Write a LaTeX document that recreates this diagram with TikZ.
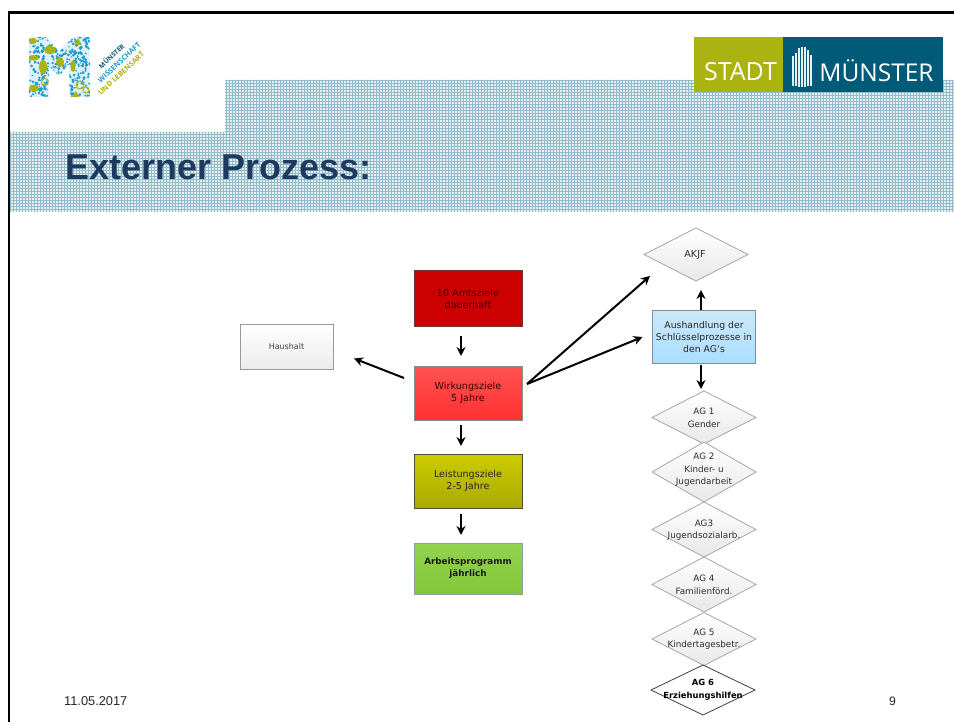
\documentclass[tikz,border=0pt]{standalone}
\usepackage{fontspec}
\setmainfont{DejaVu Sans}
\newfontfamily\arialf{Liberation Sans}
\newfontfamily\logof{Open Sans}
\usetikzlibrary{shapes.geometric,arrows.meta,calc}
\definecolor{titleblue}{HTML}{1F3A5F}
\definecolor{stadtolive}{HTML}{AAB310}
\definecolor{stadtteal}{HTML}{005A78}
\definecolor{dotblue}{HTML}{1C9BD0}
\definecolor{hatchbase}{HTML}{E6F0F3}
\definecolor{hatchline}{HTML}{93BCCB}
\definecolor{darkred}{HTML}{400000}
\tikzset{
  x=1pt,y=-1pt,
  arr/.style={draw=black,line width=2pt,-{Stealth[length=9pt,width=9pt]}},
  goalbox/.style={draw=#1,line width=1pt,inner sep=0pt,outer sep=0pt,anchor=north west,align=center,font=\fontsize{9.6}{12}\selectfont},
  ag/.style={diamond,draw=#1,line width=.8pt,inner sep=0pt,outer sep=0pt,top color=white,bottom color=black!9,shape aspect=2,minimum width=104pt,minimum height=53pt},
  agtext/.style={align=center,inner sep=0pt,text=black!82,font=\fontsize{8.8}{12.6}\selectfont},
  logotext/.style={rotate=43,anchor=west,inner sep=0pt,font=\logof\bfseries\fontsize{7.3}{8}\selectfont},
}
\begin{document}
\begin{tikzpicture}
\useasboundingbox (0,0) rectangle (954,722);
\fill[white] (0,0) rectangle (954,722);
% hatched title band
\begin{scope}
\clip (225,80) -- (954,80) -- (954,212) -- (10,212) -- (10,132) -- (225,132) -- cycle;
\fill[hatchbase] (0,70) rectangle (954,220);
\foreach \x in {10,13,...,954} \draw[hatchline,line width=.65pt] (\x,70) -- (\x,220);
\foreach \y in {80,83,...,212} \draw[hatchline,line width=.65pt] (0,\y) -- (954,\y);
\end{scope}
% frame
\draw[black,line width=2.6pt] (9,722) -- (9,12.5) -- (954,12.5);
% Muenster logo: M of dots
\begin{scope}
\clip (29,37) -- (47,37) -- (59,52) -- (73,37) -- (90,37) -- (90,97) -- (70,97) -- (69,66) -- (59,76) -- (49,66) -- (48,97) -- (29,97) -- cycle;
\fill[dotblue!14] (29,37) rectangle (90,97);
\pgfmathsetseed{4711}
\foreach \i in {1,...,420} {
  \pgfmathsetmacro{\px}{29+61*rnd}
  \pgfmathsetmacro{\py}{37+60*rnd}
  \pgfmathsetmacro{\pr}{.6+1.1*rnd}
  \fill[dotblue] (\px,\py) circle[radius=\pr];
}
\fill[stadtolive] (33,41) ellipse[x radius=4,y radius=3];
\fill[stadtolive] (50,50) ellipse[x radius=6,y radius=4];
\fill[stadtolive] (33,58) ellipse[x radius=6,y radius=2.5];
\fill[stadtolive] (43,67) ellipse[x radius=4,y radius=7];
\fill[stadtolive] (34,88) ellipse[x radius=5,y radius=3.5];
\fill[stadtolive] (78,38) -- (74,45) -- (82,45) -- cycle;
\fill[stadtolive] (73,66) ellipse[x radius=2.5,y radius=6];
\fill[stadtolive] (76,91) -- (71,97) -- (79,97) -- cycle;
\fill[stadtolive] (60,62) ellipse[x radius=4,y radius=5];
\draw[stadtolive,line width=1pt] (80,85) circle[radius=4] (86,90) circle[radius=3];
\draw[stadtolive,line width=1pt] (45,82) circle[radius=3.5];
\end{scope}
\node[logotext,text=stadtteal,font=\logof\bfseries\fontsize{6.6}{7}\selectfont] (lg1) at (99.5,67) {MÜNSTER};
\node[logotext,text=dotblue] (lg2) at (99,81.5) {WISSENSCHAFT};
\node[logotext,text=stadtolive] (lg3) at (99,94) {UND LEBENSART};
% Stadt Muenster logo
\node[fill=stadtolive,minimum width=89pt,minimum height=55pt,inner sep=0pt,outer sep=0pt,anchor=north west] (stadtbox) at (694,37) {};
\node[fill=stadtteal,minimum width=160pt,minimum height=55pt,inner sep=0pt,outer sep=0pt,anchor=north west] (muensterbox) at (783,37) {};
\node[text=white,inner sep=0pt,font=\logof\fontsize{25}{26}\selectfont] (stadtlbl) at (740.5,71.5) {STADT};
\node[text=white,inner sep=0pt,font=\logof\fontsize{24.5}{26}\selectfont] (muensterlbl) at (876.5,70.5) {MÜNSTER};
\foreach \x/\t/\b in {793/56/86,796/53/86,799/48/87,802/47/87,805/47/87,808/50/86,811/55/86}
  \fill[white!90!stadtteal] (\x-.8,\t) rectangle (\x+.8,\b);
% title and footer
\node[anchor=base west,inner sep=0pt,text=titleblue,font=\arialf\bfseries\fontsize{36}{38}\selectfont] (title) at (65,180) {Externer Prozess:};
\node[anchor=base west,inner sep=0pt,text=black!85,font=\arialf\fontsize{12.8}{14}\selectfont] (date) at (64,705) {11.05.2017};
\node[anchor=base west,inner sep=0pt,text=black!85,font=\arialf\fontsize{12.2}{14}\selectfont] (page) at (889,705) {9};
% goal boxes
\node[goalbox=black!60!red!60!gray,fill={rgb,255:red,204;green,0;blue,0},minimum width=108pt,minimum height=56pt,text=darkred] (amt) at (414,270.5) {10 Amtsziele\\dauerhaft};
\node[goalbox=black!45,top color={rgb,255:red,255;green,82;blue,82},bottom color={rgb,255:red,255;green,48;blue,48},minimum width=108pt,minimum height=54pt,text=darkred] (wirk) at (414,366) {Wirkungsziele\\5 Jahre};
\node[goalbox=black!55!olive,top color={rgb,255:red,204;green,204;blue,0},bottom color={rgb,255:red,170;green,170;blue,0},minimum width=108pt,minimum height=54pt,text=black!85] (leist) at (414,454) {Leistungsziele\\2-5 Jahre};
\node[goalbox=black!40,top color={rgb,255:red,146;green,210;blue,80},bottom color={rgb,255:red,130;green,200;blue,56},minimum width=108pt,minimum height=51pt,text=black!90,font=\fontsize{8.8}{12}\selectfont\bfseries] (arbeit) at (414,543) {Arbeitsprogramm\\jährlich};
\node[goalbox=black!40,top color=white,bottom color=black!8,minimum width=93pt,minimum height=45pt,text=black!75,font=\fontsize{8}{9}\selectfont] (haus) at (240,324.5) {Haushalt};
\node[goalbox=black!35!cyan!30!gray,top color={rgb,255:red,204;green,232;blue,250},bottom color={rgb,255:red,170;green,222;blue,255},minimum width=103pt,minimum height=52pt,text=black!85,font=\fontsize{9.3}{12}\selectfont] (aush) at (652.5,311) {Aushandlung der\\Schlüsselprozesse in\\den AG`s};
% diamonds
\node[ag=black!35] (akjf) at (696,254.5) {};
\node[ag=black!35] (ag1) at (704,417.5) {};
\node[ag=black!35,minimum height=60pt] (ag2) at (704,472) {};
\node[ag=black!35,minimum height=55pt] (ag3) at (704,529.5) {};
\node[ag=black!35,minimum height=55pt] (ag4) at (704,584.5) {};
\node[ag=black!35,minimum height=53pt] (ag5) at (704,639) {};
\node[ag=black!75,top color=white,bottom color=white,minimum height=50pt] (ag6) at (703,690) {};
\node[agtext,font=\fontsize{9.6}{11}\selectfont] (akjft) at (695,255) {AKJF};
\node[agtext] (ag1t) at (704,418) {AG 1\\Gender};
\node[agtext] (ag2t) at (704,470) {AG 2\\Kinder- u\\Jugendarbeit};
\node[agtext] (ag3t) at (704,530) {AG3\\Jugendsozialarb.};
\node[agtext] (ag4t) at (704,585) {AG 4\\Familienförd.};
\node[agtext] (ag5t) at (704,639) {AG 5\\Kindertagesbetr.};
\node[agtext,text=black,font=\fontsize{8.4}{12.6}\selectfont\bfseries] (ag6t) at (703,690) {AG 6\\Erziehungshilfen};
% connectors
\draw[arr] ([xshift=-7pt,yshift=-10pt]amt.south) -- ([xshift=-7pt,yshift=10pt]wirk.north);
\draw[arr] ([xshift=-7pt,yshift=-5pt]wirk.south) -- ([xshift=-7pt,yshift=8pt]leist.north);
\draw[arr] ([xshift=-7pt,yshift=-6pt]leist.south) -- ([xshift=-7pt,yshift=8pt]arbeit.north);
\draw[arr] ([xshift=-10pt,yshift=15pt]wirk.west) -- ([xshift=21pt,yshift=-11.5pt]haus.east);
\draw[arr] ([xshift=5pt,yshift=9pt]wirk.east) -- ([xshift=-98pt,yshift=-21.5pt]akjf.east);
\draw[arr] ([xshift=5pt,yshift=9pt]wirk.east) -- ([xshift=-10pt]aush.west);
\draw[arr] ([xshift=-3pt,yshift=1pt]aush.north) -- ([xshift=5pt,yshift=-9pt]akjf.south);
\draw[arr] ([xshift=-3pt,yshift=-2pt]aush.south) -- ([xshift=-3pt,yshift=2pt]ag1.north);
\end{tikzpicture}
\end{document}
